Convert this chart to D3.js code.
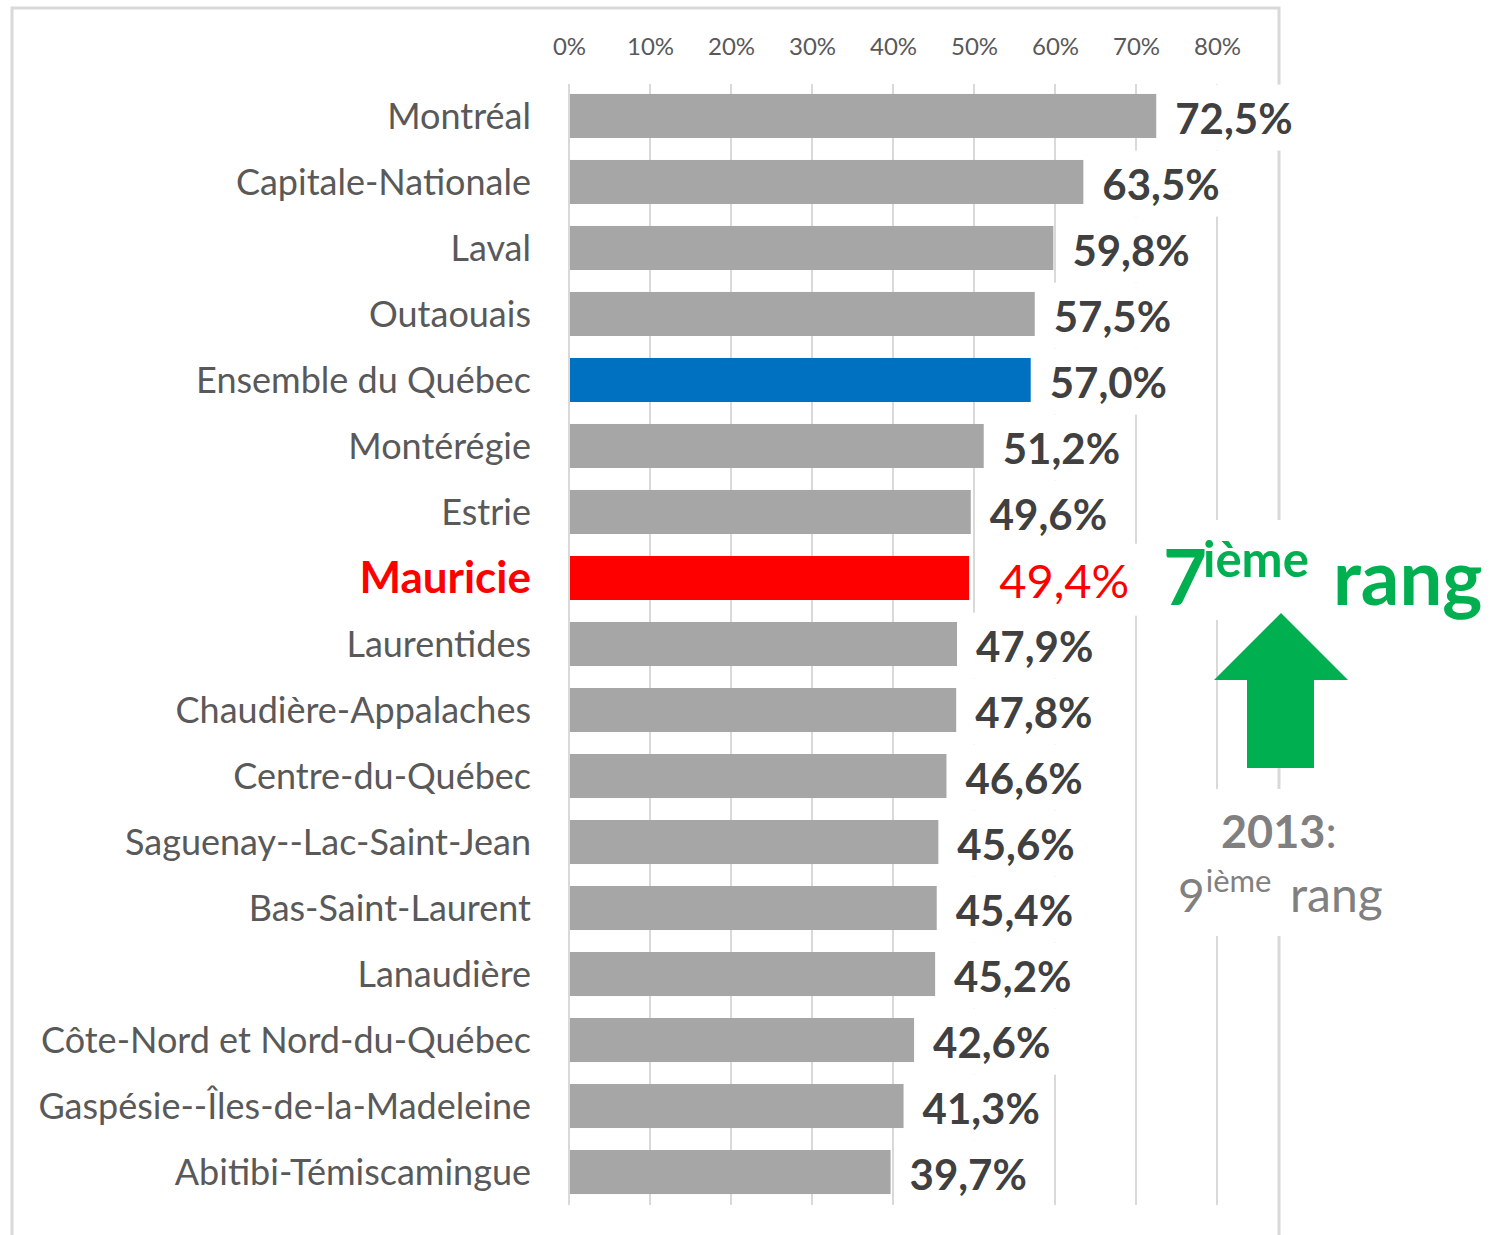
<!DOCTYPE html>
<html>
<head>
<meta charset="utf-8">
<script src="https://cdn.jsdelivr.net/npm/d3@7"></script>
<style>
  body { margin: 0; background: #fff; }
  svg { display: block; font-family: Lato, "Open Sans", sans-serif; }
</style>
</head>
<body>
<div id="chart"></div>
<script>
(function () {
    'use strict';

    var WIDTH = 1499;
    var HEIGHT = 1235;

    // data
    var categories = [
        'Montréal', 'Capitale-Nationale', 'Laval', 'Outaouais', 'Ensemble du Québec',
        'Montérégie', 'Estrie', 'Mauricie', 'Laurentides', 'Chaudière-Appalaches',
        'Centre-du-Québec', 'Saguenay--Lac-Saint-Jean', 'Bas-Saint-Laurent', 'Lanaudière',
        'Côte-Nord et Nord-du-Québec', 'Gaspésie--Îles-de-la-Madeleine', 'Abitibi-Témiscamingue'
    ];
    var values = [72.5, 63.5, 59.8, 57.5, 57.0, 51.2, 49.6, 49.4, 47.9, 47.8, 46.6, 45.6, 45.4, 45.2, 42.6, 41.3, 39.7];
    var tickValues = [0, 10, 20, 30, 40, 50, 60, 70, 80];
    var rankNow = '7';
    var rankBefore = '9';
    var yearBefore = '2013';

    var QUEBEC = 'Ensemble du Québec';
    var FOCUS = 'Mauricie';
    var GREEN = '#00b050';

    var data = categories.map(function (c, i) { return {name: c, value: values[i]}; });

    var svg = d3.select('#chart').append('svg')
        .attr('width', WIDTH)
        .attr('height', HEIGHT);

    svg.append('rect')
        .attr('width', WIDTH).attr('height', HEIGHT)
        .attr('fill', '#fff');

    // chart frame (bottom edge falls outside the picture)
    svg.append('rect')
        .attr('x', 12).attr('y', 8)
        .attr('width', 1267).attr('height', 1260)
        .attr('fill', 'none')
        .attr('stroke', '#d9d9d9')
        .attr('stroke-width', 3);

    var x = d3.scaleLinear().domain([0, 80]).range([569, 1217]);
    var y = d3.scaleBand().domain(categories).range([83, 1205]).paddingInner(0.333).paddingOuter(0.166);

    // gridlines
    svg.append('g')
        .selectAll('line')
        .data(tickValues)
        .enter()
        .append('line')
        .attr('x1', function (d) { return x(d); })
        .attr('x2', function (d) { return x(d); })
        .attr('y1', 84)
        .attr('y2', 1205)
        .attr('stroke', '#d9d9d9')
        .attr('stroke-width', 2);

    // top axis
    var axis = svg.append('g')
        .attr('transform', 'translate(0,58)')
        .call(d3.axisTop(x).tickValues(tickValues).tickSize(0).tickFormat(function (d) { return d + '%'; }));
    axis.select('.domain').remove();
    axis.selectAll('text')
        .attr('font-family', 'Lato, sans-serif')
        .attr('font-size', 24)
        .attr('fill', '#595959');

    function barColor(d) {
        if (d.name === QUEBEC) { return '#0070c0'; }
        if (d.name === FOCUS) { return '#ff0000'; }
        return '#a6a6a6';
    }

    // bars
    svg.append('g')
        .selectAll('rect')
        .data(data)
        .enter()
        .append('rect')
        .attr('x', x(0) + 1)
        .attr('y', function (d) { return y(d.name); })
        .attr('width', function (d) { return x(d.value) - x(0) - 1; })
        .attr('height', y.bandwidth())
        .attr('fill', barColor);

    // category labels
    svg.append('g')
        .selectAll('text')
        .data(data)
        .enter()
        .append('text')
        .text(function (d) { return d.name; })
        .attr('x', 531)
        .attr('y', function (d) { return y(d.name) + y.bandwidth() / 2; })
        .attr('dy', '0.35em')
        .attr('text-anchor', 'end')
        .attr('font-size', function (d) { return d.name === FOCUS ? 44 : 36; })
        .attr('font-weight', function (d) { return d.name === FOCUS ? 'bold' : 'normal'; })
        .attr('fill', function (d) { return d.name === FOCUS ? '#ff0000' : '#595959'; });

    // value labels with white boxes
    var fmt = d3.format('.1f');
    var labels = svg.append('g').selectAll('g')
        .data(data)
        .enter()
        .append('g');
    labels.append('rect').attr('fill', '#fff');
    labels.append('text')
        .text(function (d) { return fmt(d.value).replace('.', ',') + '%'; })
        .attr('x', function (d) { return x(d.value) + (d.name === FOCUS ? 30 : 19); })
        .attr('y', function (d) { return y(d.name) + y.bandwidth() / 2; })
        .attr('dy', '0.42em')
        .attr('font-size', function (d) { return d.name === FOCUS ? 47 : 42; })
        .attr('font-weight', function (d) { return d.name === FOCUS ? 'normal' : 'bold'; })
        .attr('fill', function (d) { return d.name === FOCUS ? '#ff0000' : '#404040'; });
    labels.each(function () {
        var g = d3.select(this);
        var b = g.select('text').node().getBBox();
        g.select('rect')
            .attr('x', b.x - 8).attr('y', b.y - 8)
            .attr('width', b.width + 16).attr('height', b.height + 16);
    });

    // annotation: current rank
    svg.append('rect')
        .attr('x', 1140).attr('y', 520)
        .attr('width', 359).attr('height', 100)
        .attr('fill', '#fff');
    var rank = svg.append('text')
        .attr('y', 605)
        .attr('fill', GREEN)
        .attr('font-weight', 'bold');
    rank.append('tspan').attr('x', 1163).attr('font-size', 76).text(rankNow);
    rank.append('tspan').attr('x', 1203).attr('dy', -28).attr('font-size', 49).text('ième');
    rank.append('tspan').attr('x', 1333).attr('dy', 28).attr('font-size', 76).text('rang');

    // arrow
    var arrow = d3.path();
    arrow.moveTo(1281, 613);
    arrow.lineTo(1348, 680);
    arrow.lineTo(1314, 680);
    arrow.lineTo(1314, 768);
    arrow.lineTo(1247, 768);
    arrow.lineTo(1247, 680);
    arrow.lineTo(1214, 680);
    arrow.closePath();
    svg.append('path').attr('d', arrow.toString()).attr('fill', GREEN);

    // annotation: previous rank
    svg.append('rect')
        .attr('x', 1168).attr('y', 789)
        .attr('width', 225).attr('height', 147)
        .attr('fill', '#fff');
    var prev = svg.append('text')
        .attr('x', 1221).attr('y', 848)
        .attr('fill', '#808080');
    prev.append('tspan').attr('font-size', 45).attr('font-weight', 'bold').text(yearBefore);
    prev.append('tspan').attr('font-size', 45).text(':');
    var prev2 = svg.append('text')
        .attr('y', 912)
        .attr('fill', '#808080');
    prev2.append('tspan').attr('x', 1178).attr('font-size', 46).text(rankBefore);
    prev2.append('tspan').attr('dx', 1).attr('dy', -20).attr('font-size', 31).text('ième');
    prev2.append('tspan').attr('x', 1290).attr('dy', 20).attr('font-size', 48).text('rang');
})();
</script>
</body>
</html>
